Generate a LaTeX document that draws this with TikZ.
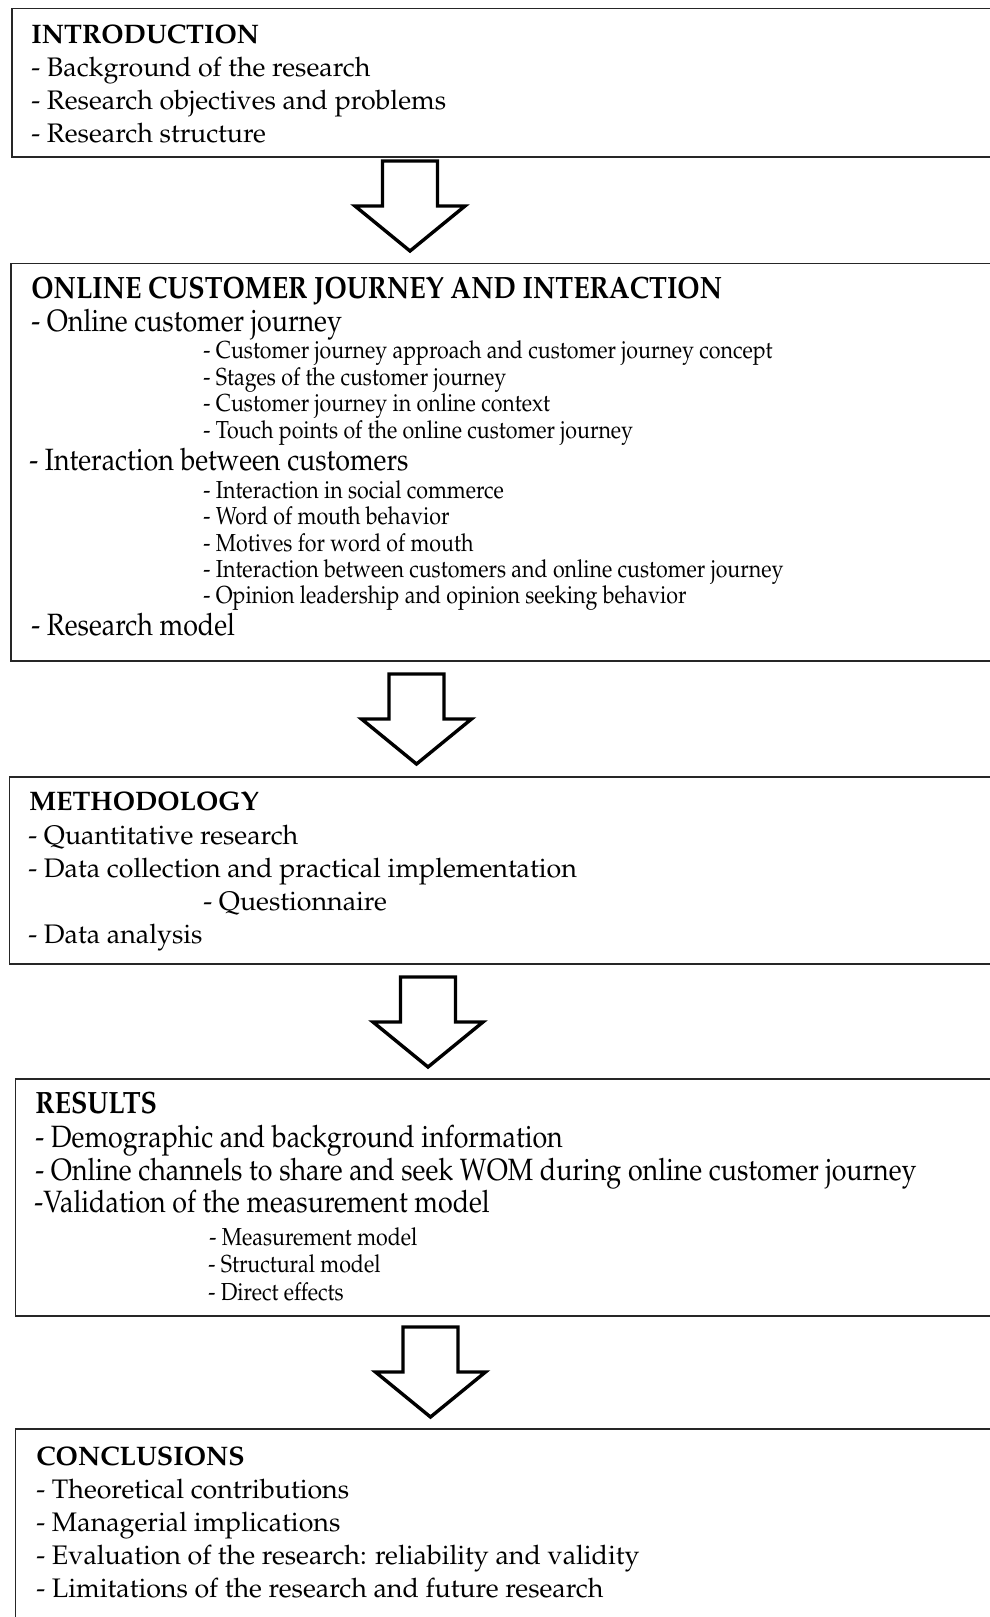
\documentclass[tikz,border=0pt]{standalone}
\usepackage[T1]{fontenc}
\usepackage{mathpazo}
\usepackage{graphicx}
\usetikzlibrary{positioning}

\newcommand{\tall}[1]{\scalebox{1}[1.15]{#1}}

\tikzset{
  box/.style={draw=black!85, line width=0.8pt, anchor=north west, inner sep=0pt},
  ttl/.style={anchor=base west, inner sep=0pt, font=\fontsize{13.4}{16}\selectfont\bfseries},
  itm/.style={anchor=base west, inner sep=0pt, font=\fontsize{13.4}{16}\selectfont},
  sub/.style={anchor=base west, inner sep=0pt, font=\fontsize{10.7}{13}\selectfont},
  blockarrow/.style={draw=black, line width=1.7pt, line join=miter, fill=white},
  pics/downarrow/.style={code={
    \draw[blockarrow] (-27.5,0)--++(55,0)--++(0,45)--++(27.5,0)--(0,90)--(-55,45)--++(27.5,0)--cycle;
  }}
}

\begin{document}
\begin{tikzpicture}[x=0.5pt,y=-0.5pt]
  \useasboundingbox (0,0) rectangle (990,1617);

  % boxes
  \node[box, minimum width=494.5pt, minimum height=74.25pt] (intro) at (11,7.5) {};
  \node[box, minimum width=495pt, minimum height=198.75pt] (journey) at (10,262.5) {};
  \node[box, minimum width=495.75pt, minimum height=93.5pt] (method) at (8.5,776) {};
  \node[box, minimum width=492.75pt, minimum height=118.5pt] (results) at (14.5,1078) {};
  \node[box, minimum width=492.75pt, minimum height=110pt] (concl) at (14.5,1428) {};

  % arrows
  \coordinate (a1) at (410,161);
  \coordinate (a2) at (416.5,674);
  \coordinate (a3) at (428,977);
  \coordinate (a4) at (430.5,1327);
  \pic at (a1) {downarrow};
  \pic at (a2) {downarrow};
  \pic at (a3) {downarrow};
  \pic at (a4) {downarrow};

  % introduction
  \node[ttl] (intro-t) at (31,43) {INTRODUCTION};
  \node[itm] (intro-1) at (31,76) {- Background of the research};
  \node[itm] (intro-2) at (31,109) {- Research objectives and problems};
  \node[itm] (intro-3) at (31,142) {- Research structure};

  % online customer journey
  \node[ttl] (journey-t) at (31,298) {\tall{ONLINE CUSTOMER JOURNEY AND INTERACTION}};
  \node[itm] (journey-1) at (31,331) {\tall{- Online customer journey}};
  \node[sub] (journey-11) at (203,358) {\tall{- Customer journey approach and customer journey concept}};
  \node[sub] (journey-12) at (203,385) {\tall{- Stages of the customer journey}};
  \node[sub] (journey-13) at (203,411) {\tall{- Customer journey in online context}};
  \node[sub] (journey-14) at (203,438) {\tall{- Touch points of the online customer journey}};
  \node[itm] (journey-2) at (29,470) {\tall{- Interaction between customers}};
  \node[sub] (journey-21) at (203,498) {\tall{- Interaction in social commerce}};
  \node[sub] (journey-22) at (203,524) {\tall{- Word of mouth behavior}};
  \node[sub] (journey-23) at (203,551) {\tall{- Motives for word of mouth}};
  \node[sub] (journey-24) at (203,577) {\tall{- Interaction between customers and online customer journey}};
  \node[sub] (journey-25) at (203,603) {\tall{- Opinion leadership and opinion seeking behavior}};
  \node[itm] (journey-3) at (31,635) {\tall{- Research model}};

  % methodology
  \node[ttl] (method-t) at (29,810) {METHODOLOGY};
  \node[itm] (method-1) at (28,844) {- Quantitative research};
  \node[itm] (method-2) at (28,877) {- Data collection and practical implementation};
  \node[itm] (method-21) at (203,910) {- Questionnaire};
  \node[itm] (method-3) at (28,943) {- Data analysis};

  % results
  \node[ttl] (results-t) at (35,1113) {\tall{RESULTS}};
  \node[itm] (results-1) at (35,1147) {\tall{- Demographic and background information}};
  \node[itm] (results-2) at (35,1180) {\tall{- Online channels to share and seek WOM during online customer journey}};
  \node[itm] (results-3) at (34,1212) {\tall{-Validation of the measurement model}};
  \node[sub] (results-31) at (209,1245) {\tall{- Measurement model}};
  \node[sub] (results-32) at (208,1272) {\tall{- Structural model}};
  \node[sub] (results-33) at (208,1300) {\tall{- Direct effects}};

  % conclusions
  \node[ttl] (concl-t) at (36,1465) {CONCLUSIONS};
  \node[itm] (concl-1) at (36,1498) {- Theoretical contributions};
  \node[itm] (concl-2) at (36,1531) {- Managerial implications};
  \node[itm] (concl-3) at (36,1564) {- Evaluation of the research: reliability and validity};
  \node[itm] (concl-4) at (36,1597) {- Limitations of the research and future research};
\end{tikzpicture}
\end{document}
